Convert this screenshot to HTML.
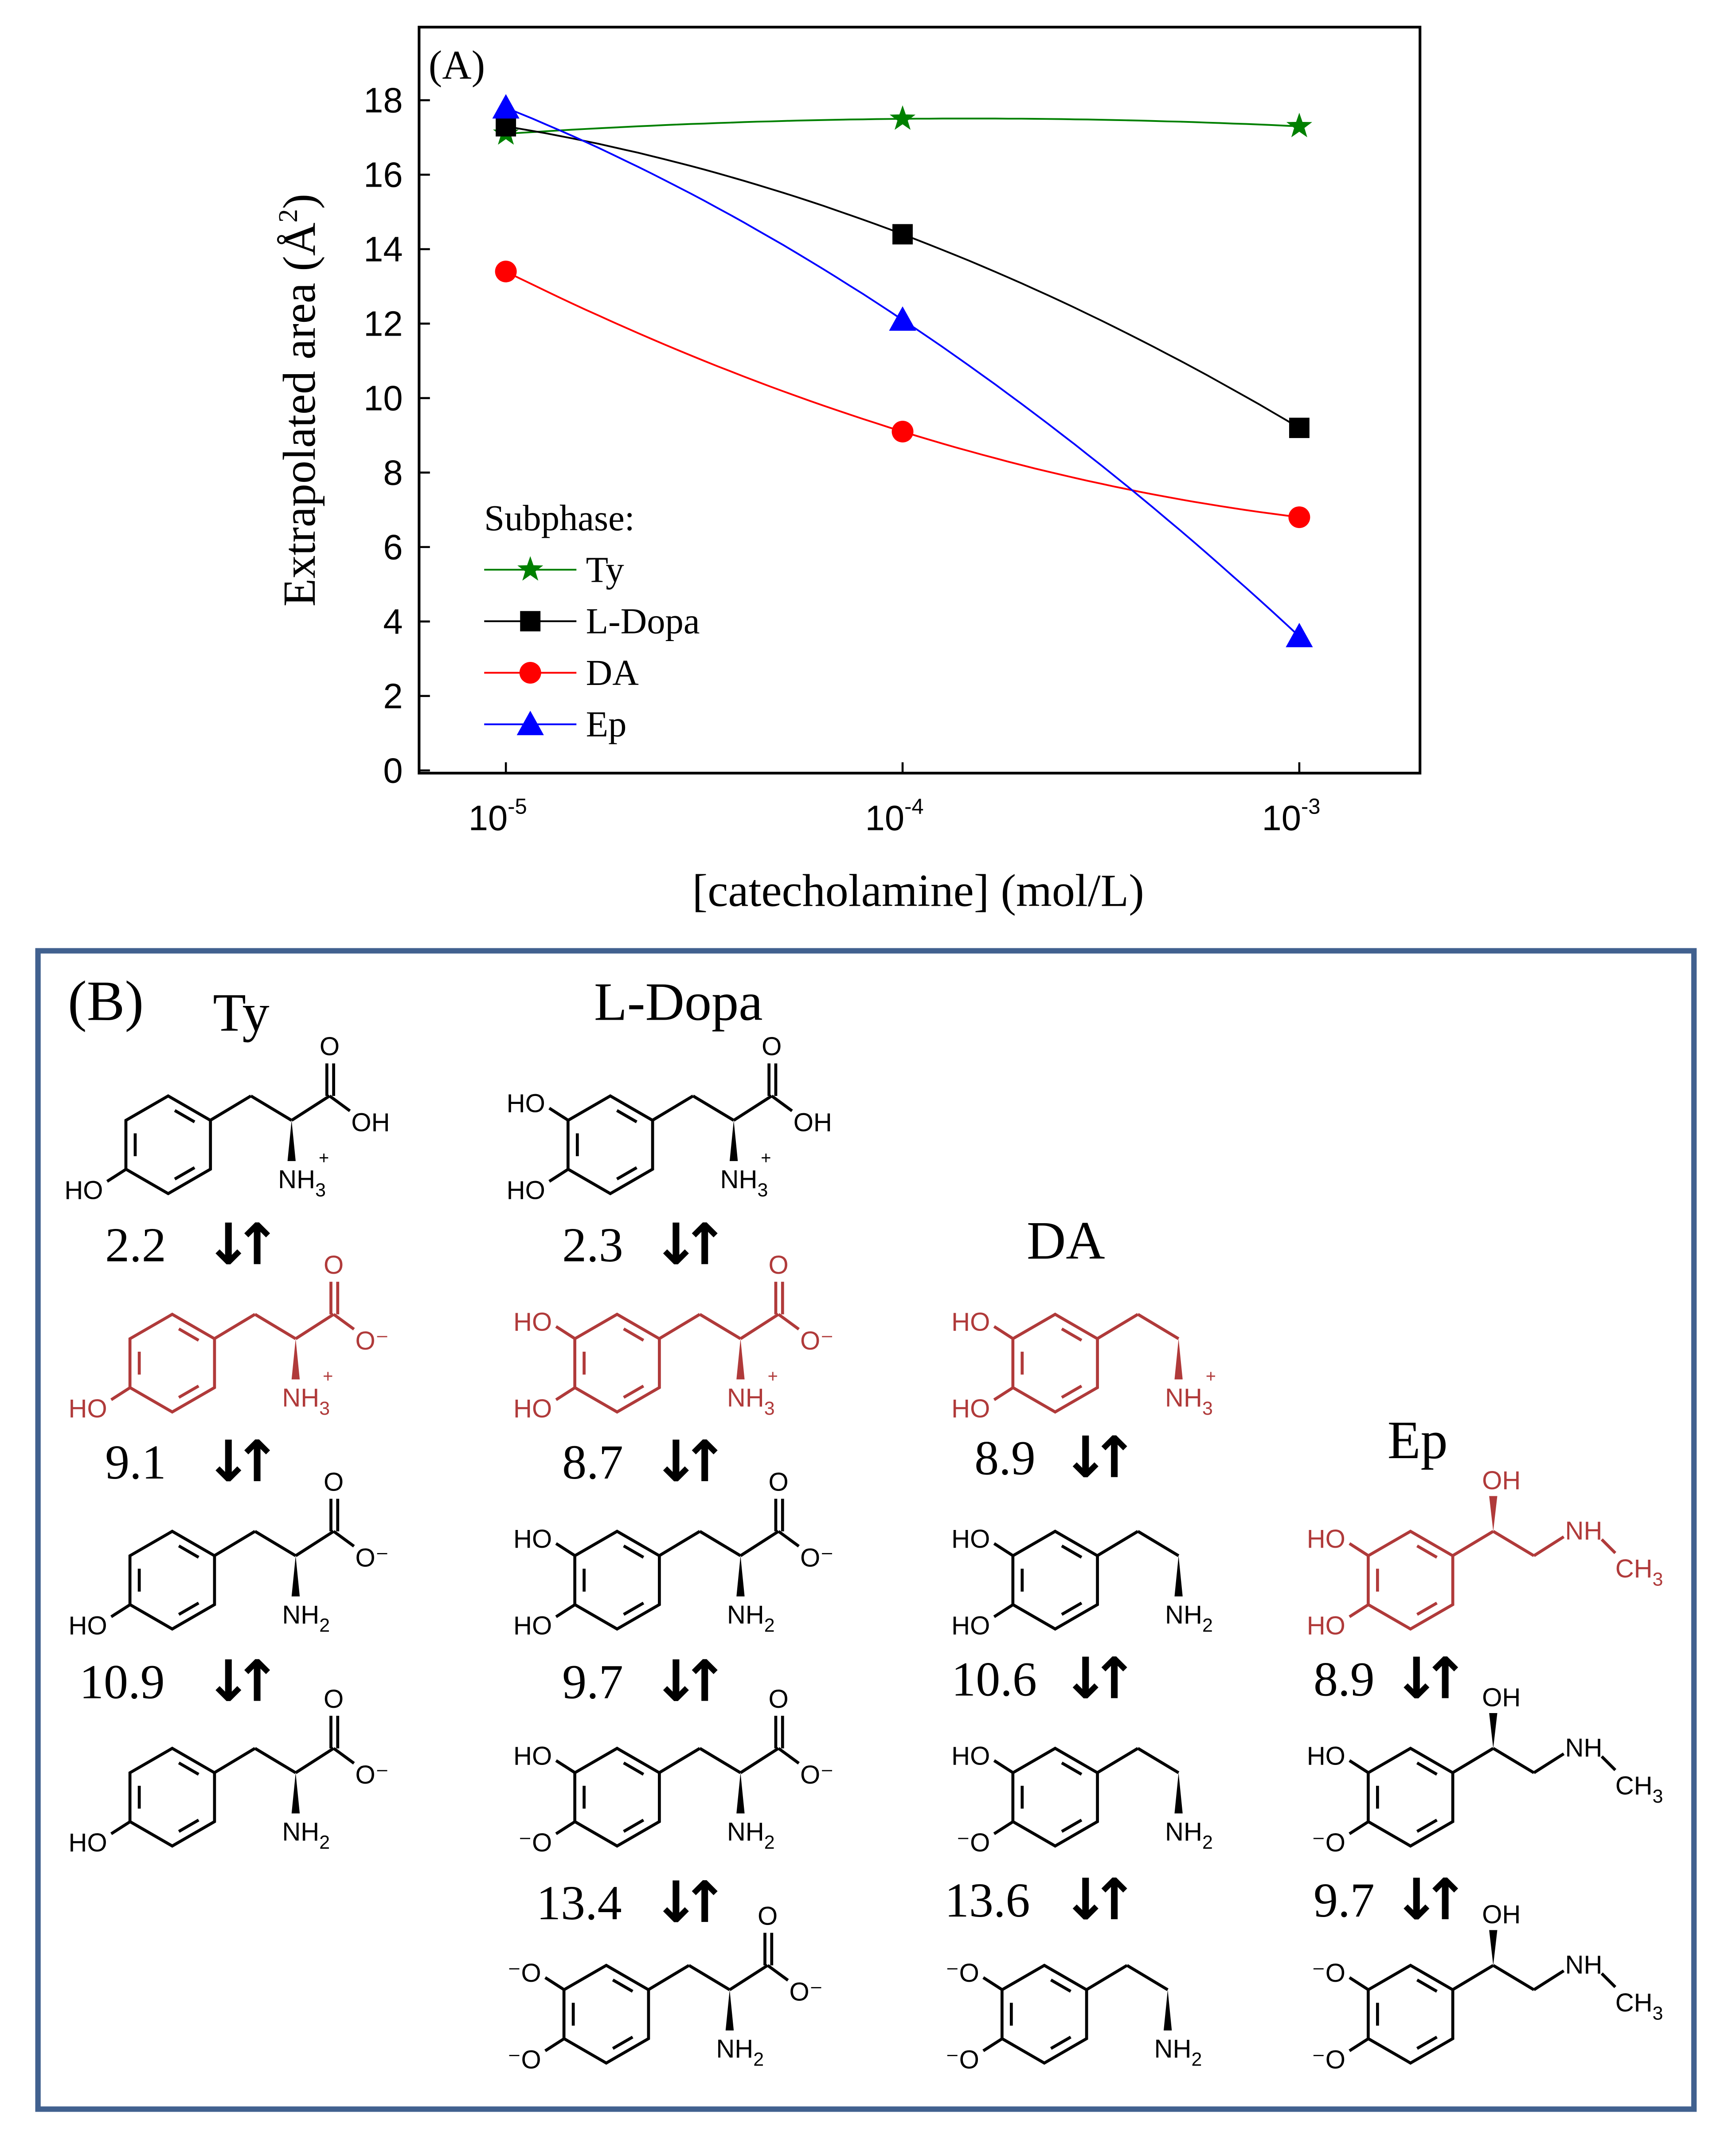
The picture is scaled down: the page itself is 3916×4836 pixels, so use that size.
<!DOCTYPE html>
<html><head><meta charset="utf-8"><style>
html,body{margin:0;padding:0;background:#fff}
svg{display:block}
</style></head><body>
<svg id="root" width="3916" height="4836" viewBox="0 0 1280 1580.7" preserveAspectRatio="none" xmlns="http://www.w3.org/2000/svg">
<g id="chart"></g>
<g id="panelb"></g>
</svg>
<script>
const NS='http://www.w3.org/2000/svg';
const categories=[-5,-4,-3];
const tyValues=[17.1,17.5,17.3];
const ldopaValues=[17.3,14.4,9.2];
const daValues=[13.4,9.1,6.8];
const epValues=[17.8,12.1,3.6];
const yTicks=[0,2,4,6,8,10,12,14,16,18];
const xTickLabels=['-5','-4','-3'];

function el(parent,tag,attrs,text){const e=document.createElementNS(NS,tag);for(const k in attrs)e.setAttribute(k,attrs[k]);if(text!==undefined)e.textContent=text;parent.appendChild(e);return e;}

const chart=document.getElementById('chart');
const PL=309,PR=1047,PT=20,PB=570;
const xs=v=>373+(v+5)*292.5;
const ys=v=>568-v*27.45;
const frame=el(chart,'rect',{x:PL,y:PT,width:PR-PL,height:PB-PT,fill:'none',stroke:'#000','stroke-width':2});


yTicks.forEach(t=>{
  const l=el(chart,'line',{x1:PL,x2:PL+8,y1:ys(t),y2:ys(t),stroke:'#000','stroke-width':1.5});
  
  
  const tx=el(chart,'text',{x:297,y:ys(t)+9,'text-anchor':'end','font-family':'Liberation Sans, sans-serif','font-size':26},String(t));
  
  
});
categories.forEach((c,i)=>{
  const l=el(chart,'line',{x1:xs(c),x2:xs(c),y1:PB,y2:PB-8,stroke:'#000','stroke-width':1.5});
  
  
  const t=el(chart,'text',{x:xs(c)-6,y:612,'text-anchor':'middle','font-family':'Liberation Sans, sans-serif','font-size':26},'10');
  
  
  el(t,'tspan',{dy:-12,'font-size':16},xTickLabels[i]);
});
const xt=el(chart,'text',{x:677,y:668,'text-anchor':'middle','font-family':'Liberation Serif, serif','font-size':34},'[catecholamine] (mol/L)');


const yt=el(chart,'text',{x:0,y:0,transform:'translate(232,295) rotate(-90)','text-anchor':'middle','font-family':'Liberation Serif, serif','font-size':34},'Extrapolated area (Å');


el(yt,'tspan',{dy:-13,'font-size':20},'2');
el(yt,'tspan',{dy:13},')');
const pa=el(chart,'text',{x:316,y:58,'font-family':'Liberation Serif, serif','font-size':30},'(A)');



function marker(g,type,x,y,color){
  let m;
  if(type==='star'){let p='';for(let i=0;i<10;i++){const r=i%2?4:10,a=-Math.PI/2+i*Math.PI/5;p+=(x+r*Math.cos(a))+','+(y+r*Math.sin(a))+' ';}m=el(g,'polygon',{points:p,fill:color});}
  else if(type==='square')m=el(g,'rect',{x:x-7.5,y:y-7.5,width:15,height:15,fill:color});
  else if(type==='circle')m=el(g,'circle',{cx:x,cy:y,r:8,fill:color});
  else m=el(g,'polygon',{points:`${x},${y-10} ${x+10},${y+8} ${x-10},${y+8}`,fill:color});
  return m;
}
const series=[['ty',tyValues,'#008000','star'],['ldopa',ldopaValues,'#000','square'],['da',daValues,'#ff0000','circle'],['ep',epValues,'#0000ff','triangle']];
series.forEach(([nm,vals,col,mk])=>{
  const g=el(chart,'g',{});
  
  
  const [x0,x1,x2]=categories,[y0,y1,y2]=vals;
  const f=x=>y0*(x-x1)*(x-x2)/((x0-x1)*(x0-x2))+y1*(x-x0)*(x-x2)/((x1-x0)*(x1-x2))+y2*(x-x0)*(x-x1)/((x2-x0)*(x2-x1));
  let d='';for(let i=0;i<=60;i++){const x=x0+(x2-x0)*i/60;d+=(i?'L':'M')+xs(x).toFixed(1)+','+ys(f(x)).toFixed(1);}
  const ln=el(g,'path',{d:d,fill:'none',stroke:col,'stroke-width':1.3});
  
  
  categories.forEach((c,i)=>{const m=marker(g,mk,xs(c),ys(vals[i]),col);
    
    });
});
const lg=el(chart,'g',{});


el(lg,'text',{x:357,y:391,'font-family':'Liberation Serif, serif','font-size':27},'Subphase:');
const names=['Ty','L-Dopa','DA','Ep'];
series.forEach((s,i)=>{const y=420+i*38;
  const e=el(lg,'g',{});
  
  
  el(e,'line',{x1:357,x2:425,y1:y,y2:y,stroke:s[2],'stroke-width':1.3});
  marker(e,s[3],391,y,s[2]);
  el(e,'text',{x:432,y:y+9,'font-family':'Liberation Serif, serif','font-size':27},names[i]);
});

const pb=document.getElementById('panelb');
const box=el(pb,'rect',{x:28,y:701,width:1221,height:854,fill:'none',stroke:'#41618f','stroke-width':4});


function txt(x,y,s,size,name,anchor,fam,col){const t=el(pb,'text',{x:x,y:y,'font-family':fam||'Liberation Serif, serif','font-size':size,'text-anchor':anchor||'start',fill:col||'#000'},s);
  
  return t;}
txt(50,752,'(B)',42,'panel-b-label');
txt(157,760,'Ty',40,'ty-title');
txt(438,752,'L-Dopa',40,'ldopa-title');
txt(757,928,'DA',40,'da-title');
txt(1023,1075,'Ep',40,'ep-title');

const SF='Liberation Sans, sans-serif';
function mol(cx,cy,kind,state,col){
  const g=el(pb,'g',{stroke:col,'stroke-width':2.2,fill:'none'});
  
  
  const R=36,v=[];for(let i=0;i<6;i++){const a=-Math.PI/2+i*Math.PI/3;v.push([cx+R*Math.cos(a),cy+R*Math.sin(a)]);}
  el(g,'polygon',{points:v.map(p=>p.join(',')).join(' ')});
  [[0,1],[2,3],[4,5]].forEach(([a,b])=>{const k=0.78,s=0.2;const p=v[a],q=v[b];
    const ax=cx+(p[0]-cx)*k,ay=cy+(p[1]-cy)*k,bx=cx+(q[0]-cx)*k,by=cy+(q[1]-cy)*k;
    el(g,'line',{x1:ax+(bx-ax)*s,y1:ay+(by-ay)*s,x2:bx-(bx-ax)*s,y2:by-(by-ay)*s});});
  const T=(x,y,s,sz,anc)=>{const t=el(g,'text',{x:x,y:y,'font-family':SF,'font-size':sz||19,fill:col,stroke:'none','text-anchor':anc||'start'},s);return t;};
  const L=(a,b,c,d)=>el(g,'line',{x1:a,y1:b,x2:c,y2:d});
  L(cx-31,cy+18,cx-45,cy+27);
  if(state.o2) T(cx-48,cy+40,state.o2,19,'end');
  if(state.o1){L(cx-31,cy-18,cx-45,cy-27);T(cx-48,cy-24,state.o1,19,'end');}
  const ux=cx+31,uy=cy-18;
  if(kind==='aa'){
    L(ux,uy,ux+30,uy-18);L(ux+30,uy-18,ux+60,uy);L(ux+60,uy,ux+88,uy-18);
    el(g,'polygon',{points:`${ux+60},${uy} ${ux+57},${uy+30} ${ux+63},${uy+30}`,fill:col,stroke:'none'});
    L(ux+86,uy-18,ux+86,uy-42);L(ux+91,uy-18,ux+91,uy-42);
    T(ux+88,uy-48,'O',19,'middle');
    L(ux+88,uy-18,ux+103,uy-7);
    T(ux+104,uy+8,state.acid,19);
    const n=T(ux+50,uy+50,'NH',19);
    el(n,'tspan',{dy:6,'font-size':14},state.n==='+'?'3':'2');
    if(state.n==='+') T(ux+80,uy+32,'+',13);
  } else if(kind==='da'){
    L(ux,uy,ux+30,uy-18);L(ux+30,uy-18,ux+60,uy);
    el(g,'polygon',{points:`${ux+60},${uy} ${ux+57},${uy+30} ${ux+63},${uy+30}`,fill:col,stroke:'none'});
    const n=T(ux+50,uy+50,'NH',19);
    el(n,'tspan',{dy:6,'font-size':14},state.n==='+'?'3':'2');
    if(state.n==='+') T(ux+80,uy+32,'+',13);
  } else {
    L(ux,uy,ux+30,uy-18);
    el(g,'polygon',{points:`${ux+30},${uy-18} ${ux+27},${uy-44} ${ux+33},${uy-44}`,fill:col,stroke:'none'});
    T(ux+36,uy-49,'OH',19,'middle');
    L(ux+30,uy-18,ux+60,uy);L(ux+60,uy,ux+82,uy-14);
    T(ux+83,uy-12,'NH',19);
    L(ux+110,uy-12,ux+120,uy-2);
    const c=T(ux+120,uy+16,'CH',19);el(c,'tspan',{dy:6,'font-size':14},'3');
  }
}
const RED='#b03a3a';
mol(124,844,'aa',{o2:'HO',acid:'OH',n:'+'},'#000');
mol(127,1005,'aa',{o2:'HO',acid:'O⁻',n:'+'},RED);
mol(127,1165,'aa',{o2:'HO',acid:'O⁻',n:''},'#000');
mol(127,1325,'aa',{o2:'HO',acid:'O⁻',n:''},'#000');
mol(450,844,'aa',{o1:'HO',o2:'HO',acid:'OH',n:'+'},'#000');
mol(455,1005,'aa',{o1:'HO',o2:'HO',acid:'O⁻',n:'+'},RED);
mol(455,1165,'aa',{o1:'HO',o2:'HO',acid:'O⁻',n:''},'#000');
mol(455,1325,'aa',{o1:'HO',o2:'⁻O',acid:'O⁻',n:''},'#000');
mol(447,1485,'aa',{o1:'⁻O',o2:'⁻O',acid:'O⁻',n:''},'#000');
mol(778,1005,'da',{o1:'HO',o2:'HO',n:'+'},RED);
mol(778,1165,'da',{o1:'HO',o2:'HO',n:''},'#000');
mol(778,1325,'da',{o1:'HO',o2:'⁻O',n:''},'#000');
mol(770,1485,'da',{o1:'⁻O',o2:'⁻O',n:''},'#000');
mol(1040,1165,'ep',{o1:'HO',o2:'HO'},RED);
mol(1040,1325,'ep',{o1:'HO',o2:'⁻O'},'#000');
mol(1040,1485,'ep',{o1:'⁻O',o2:'⁻O'},'#000');

function pk(x,y,s,ax){txt(x,y,s,36,'pka-value','middle');
  const a=el(pb,'text',{x:ax,y:y+2,'font-family':'DejaVu Sans, sans-serif','font-size':42,'font-weight':'bold','text-anchor':'middle','letter-spacing':-14},'↓↑');
  
  }
pk(100,930,'2.2',172);pk(100,1090,'9.1',172);pk(90,1252,'10.9',172);
pk(437,930,'2.3',502);pk(437,1090,'8.7',502);pk(437,1252,'9.7',502);pk(427,1415,'13.4',502);
pk(741,1087,'8.9',804);pk(733,1250,'10.6',804);pk(728,1413,'13.6',804);
pk(991,1250,'8.9',1048);pk(991,1413,'9.7',1048);
</script>
</body></html>
